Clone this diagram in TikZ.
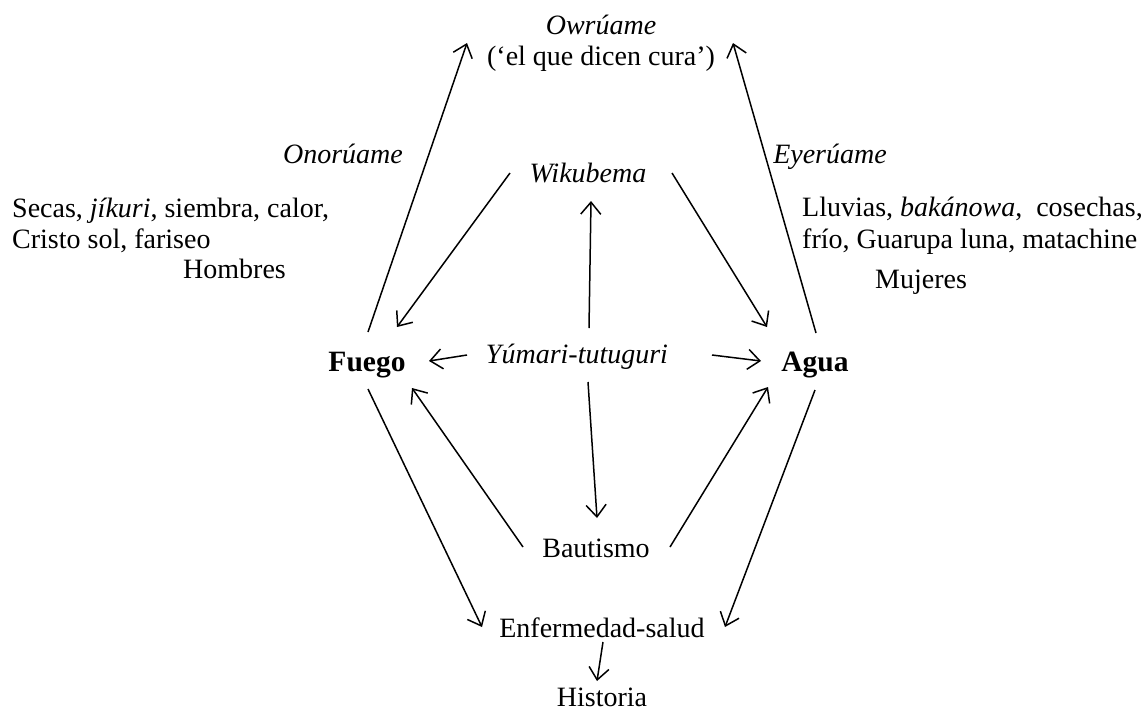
\documentclass[tikz,border=0pt]{standalone}
\usepackage{fontspec}
\setmainfont{Liberation Serif}
\usetikzlibrary{arrows.meta,calc}
\begin{document}
\begin{tikzpicture}[x=1pt,y=-1pt,
  lbl/.style={inner sep=0pt,font=\fontsize{28}{32}\selectfont},
  bld/.style={inner sep=0pt,font=\fontsize{29.5}{33}\selectfont\bfseries},
  arr/.style={draw,line width=1.5pt,-{Straight Barb[length=12pt,width=20pt,line width=1.5pt]}}]
\useasboundingbox (0,0) rectangle (1146,710);
% nodes
\node[lbl,anchor=base] (own) at (601,34) {\itshape Owrúame};
\node[lbl,anchor=base] (cura) at (601,65) {(‘el que dicen cura’)};
\node[lbl,anchor=base] (ono) at (343,163) {\itshape Onorúame};
\node[lbl,anchor=base] (eye) at (830,163) {\itshape Eyerúame};
\node[lbl,anchor=base] (wik) at (588,182) {\itshape Wikubema};
\node[lbl,anchor=base west] (sec1) at (12,217) {Secas, \textit{jíkuri}, siembra, calor,};
\node[lbl,anchor=base west] (sec2) at (12,248) {Cristo sol, fariseo};
\node[lbl,anchor=base west] (hom) at (183,278) {Hombres};
\node[lbl,anchor=base west] (llu1) at (802,216) {Lluvias, \textit{bakánowa},\ \ cosechas,};
\node[lbl,anchor=base west] (llu2) at (802,248) {frío, Guarupa luna, matachine};
\node[lbl,anchor=base west] (muj) at (875,288) {Mujeres};
\node[bld,anchor=base] (fuego) at (367,371) {Fuego};
\node[bld,anchor=base] (agua) at (815,371) {Agua};
\node[lbl,anchor=base] (yum) at (577,363) {\itshape Yúmari-tutuguri};
\node[lbl,anchor=base] (baut) at (596,557) {Bautismo};
\node[lbl,anchor=base] (enf) at (602,637) {Enfermedad-salud};
\node[lbl,anchor=base] (hist) at (602,706) {Historia};
% connectors
\draw[arr] ($(fuego.base)+(1,-39)$) -- ($(cura.base)+(-134,-22)$);
\draw[arr] ($(agua.base)+(1,-38)$) -- ($(cura.base)+(132,-22)$);
\draw[arr] ($(wik.base)+(-78,-9)$) -- ($(fuego.base)+(30,-44)$);
\draw[arr] ($(wik.base)+(84,-9)$) -- ($(agua.base)+(-48,-44)$);
\draw[arr] ($(yum.base)+(12,-35)$) -- ($(wik.base)+(3,19)$);
\draw[arr] ($(yum.base)+(-110,-8)$) -- ($(fuego.base)+(62,-10)$);
\draw[arr] ($(yum.base)+(135,-8)$) -- ($(agua.base)+(-54,-10)$);
\draw[arr] ($(yum.base)+(11,19)$) -- ($(baut.base)+(1,-39)$);
\draw[arr] ($(baut.base)+(-73,-10)$) -- ($(fuego.base)+(45,17)$);
\draw[arr] ($(baut.base)+(74,-10)$) -- ($(agua.base)+(-47,16)$);
\draw[arr] ($(fuego.base)+(1,18)$) -- ($(enf.base)+(-120,-10)$);
\draw[arr] ($(agua.base)+(0,19)$) -- ($(enf.base)+(123,-10)$);
\draw[arr] ($(enf.base)+(1,5)$) -- ($(hist.base)+(-5,-25)$);
\end{tikzpicture}
\end{document}
